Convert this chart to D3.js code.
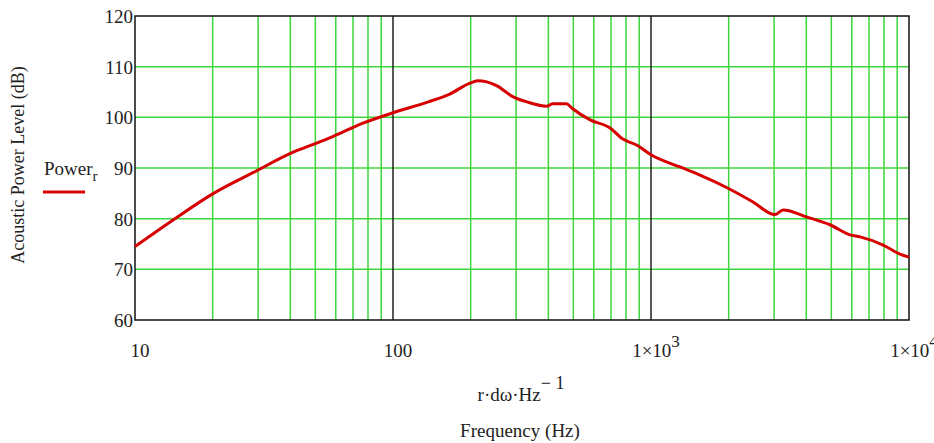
<!DOCTYPE html>
<html>
<head>
<meta charset="utf-8">
<script src="https://cdn.jsdelivr.net/npm/d3@7/dist/d3.min.js"></script>
<style>
  body { margin: 0; background: #fff; }
  svg text { font-family: "Liberation Serif", "Times New Roman", serif; fill: #222; }
</style>
</head>
<body>
<svg id="chart" width="934" height="443"></svg>
<script>
// frequency (Hz) and acoustic power level (dB)
const FREQ  = [10, 14, 20, 30, 40, 50, 58.4, 76, 100, 138, 166, 198, 213, 231, 253, 291, 333, 395, 415, 470, 494, 581, 694, 778, 883, 1000, 1295, 1549, 1972, 2484, 3020, 3250, 4030, 4940, 5910, 6460, 7940, 9230, 10000];
const POWER = [74.5, 79.7, 84.9, 89.6, 92.9, 94.8, 96.2, 98.8, 100.9, 103.1, 104.6, 106.7, 107.2, 107.0, 106.2, 104.1, 103.0, 102.2, 102.7, 102.7, 101.8, 99.5, 97.9, 95.7, 94.5, 92.6, 90.2, 88.6, 86.1, 83.3, 80.8, 81.7, 80.3, 78.8, 76.8, 76.4, 74.8, 73.0, 72.4];

const X_DOMAIN = [10, 10000];
const Y_DOMAIN = [60, 120];
const Y_TICKS = [60, 70, 80, 90, 100, 110, 120];
const X_MAJOR = [10, 100, 1000, 10000];
const X_MINOR_MULT = [2, 3, 4, 5, 6, 7, 8, 9];

const L = 135, R = 909, T = 16, B = 320;
const GREEN = '#3cd63c', RED = '#d60000';

const svg = d3.select('#chart');
const x = d3.scaleLog().domain(X_DOMAIN).range([L, R]);
const y = d3.scaleLinear().domain(Y_DOMAIN).range([B, T]);

const minors = [];
X_MAJOR.slice(0, -1).forEach(d => X_MINOR_MULT.forEach(m => minors.push(d * m)));

const grid = svg.append('g');
grid.selectAll('line.vm').data(minors).join('line')
  .attr('x1', d => x(d)).attr('x2', d => x(d)).attr('y1', T).attr('y2', B)
  .attr('stroke', GREEN).attr('stroke-width', 1.5);
grid.selectAll('line.h').data(Y_TICKS.slice(1, -1)).join('line')
  .attr('x1', L).attr('x2', R).attr('y1', d => y(d)).attr('y2', d => y(d))
  .attr('stroke', GREEN).attr('stroke-width', 1.5);
grid.selectAll('line.vM').data(X_MAJOR.slice(1, -1)).join('line')
  .attr('x1', d => x(d)).attr('x2', d => x(d)).attr('y1', T).attr('y2', B)
  .attr('stroke', '#111').attr('stroke-width', 1.4);

svg.append('rect').attr('x', L).attr('y', T).attr('width', R - L).attr('height', B - T)
  .attr('fill', 'none').attr('stroke', '#111').attr('stroke-width', 1.5);

const line = d3.line().x((d, i) => x(FREQ[i])).y(d => y(d)).curve(d3.curveMonotoneX);
svg.append('path').datum(POWER).attr('d', line)
  .attr('fill', 'none').attr('stroke', RED).attr('stroke-width', 3).attr('stroke-linejoin', 'round');

// y tick labels
svg.selectAll('text.yt').data(Y_TICKS).join('text')
  .attr('x', L - 2).attr('y', d => y(d) + 7)
  .attr('text-anchor', 'end').attr('font-size', 19)
  .text(d => d);

// x tick labels
svg.selectAll('text.xt').data(X_MAJOR).join('text')
  .attr('x', d => x(d) + 5).attr('y', 357)
  .attr('text-anchor', 'middle').attr('font-size', 19)
  .each(function (d) {
    const t = d3.select(this);
    if (d < 1000) { t.text(d); return; }
    t.append('tspan').text('1\u00d710');
    t.append('tspan').attr('dy', -10).attr('font-size', 17).text(Math.round(Math.log10(d)));
  });

// axis titles
const xl = svg.append('text').attr('x', 521).attr('y', 401).attr('text-anchor', 'middle').attr('font-size', 19);
xl.append('tspan').text('r\u00b7d\u03c9\u00b7Hz');
xl.append('tspan').attr('dy', -12).attr('font-size', 18).text('\u2212 1');

svg.append('text').attr('x', 520).attr('y', 437).attr('text-anchor', 'middle').attr('font-size', 19)
  .text('Frequency (Hz)');

svg.append('text').attr('transform', 'translate(24,165) rotate(-90)')
  .attr('text-anchor', 'middle').attr('font-size', 18)
  .text('Acoustic Power Level (dB)');

// legend
const lg = svg.append('text').attr('x', 44).attr('y', 175).attr('font-size', 19);
lg.append('tspan').text('Power');
lg.append('tspan').attr('dy', 6).attr('font-size', 15).text('r');
svg.append('line').attr('x1', 43).attr('x2', 85).attr('y1', 192).attr('y2', 192)
  .attr('stroke', RED).attr('stroke-width', 3);
</script>
</body>
</html>
